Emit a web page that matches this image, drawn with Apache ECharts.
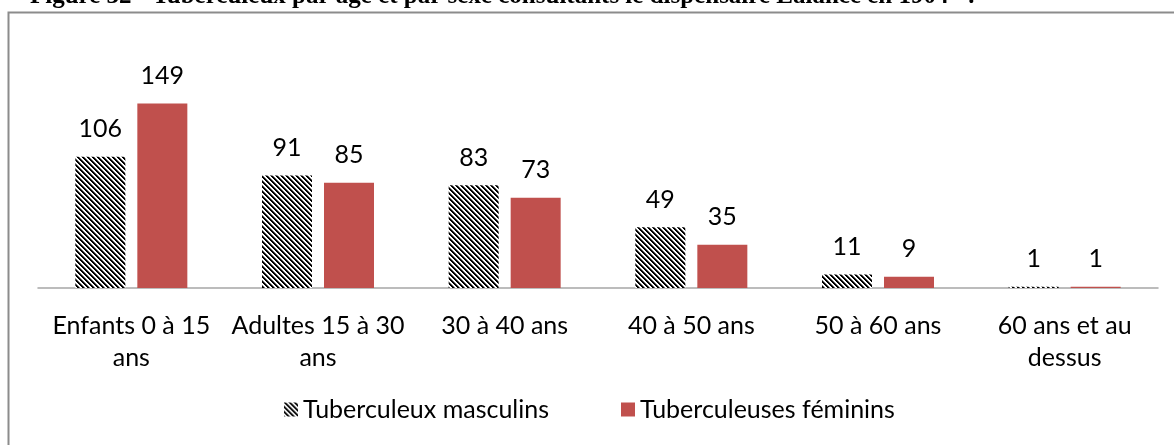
<!DOCTYPE html>
<html>
<head>
<meta charset="utf-8">
<script src="https://cdn.jsdelivr.net/npm/echarts@6/dist/echarts.min.js"></script>
<style>
  html, body { margin: 0; padding: 0; background: #fff; }
  #chart { width: 1174px; height: 445px; }
</style>
</head>
<body>
<div id="chart"></div>
<script>
// données
const categories = [
  'Enfants 0 à 15\nans',
  'Adultes 15 à 30\nans',
  '30 à 40 ans',
  '40 à 50 ans',
  '50 à 60 ans',
  '60 ans et au\ndessus'
];
const masculins = [106, 91, 83, 49, 11, 1];
const feminins = [149, 85, 73, 35, 9, 1];
const seriesNames = ['Tuberculeux masculins', 'Tuberculeuses féminins'];
const titleText = 'Figure 32 - Tuberculeux par âge et par sexe consultants le dispensaire Lalance en 1904';

// motif hachuré noir et blanc (diagonales descendantes)
function makeHatch() {
  const size = 5;
  const c = document.createElement('canvas');
  c.width = size;
  c.height = size;
  const ctx = c.getContext('2d');
  const img = ctx.createImageData(size, size);
  for (let y = 0; y < size; y++) {
    for (let x = 0; x < size; x++) {
      const k = ((x - y) % size + size) % size;
      let v = 255;
      if (k < 2) v = 0;
      else if (k === 2) v = 110;
      const i = (y * size + x) * 4;
      img.data[i] = v; img.data[i + 1] = v; img.data[i + 2] = v; img.data[i + 3] = 255;
    }
  }
  ctx.putImageData(img, 0, 0);
  return c;
}

const font = 'Lato, Carlito, Calibri, sans-serif';
const chart = echarts.init(document.getElementById('chart'));

const labelStyle = {
  show: true,
  position: 'top',
  distance: 15,
  fontSize: 25,
  fontFamily: font,
  color: '#000'
};

chart.setOption({
  animation: false,
  textStyle: { fontFamily: font },
  graphic: [
    {
      type: 'rect',
      shape: { x: 8.5, y: 12.5, width: 1300, height: 600 },
      style: { fill: 'none', stroke: '#8c8c8c', lineWidth: 2 },
      z: -1
    },
    {
      type: 'text',
      x: 30,
      y: -3.5,
      style: {
        text: titleText + '   :',
        font: 'bold 25px "Liberation Serif", "Times New Roman", serif',
        fill: '#000',
        verticalAlign: 'middle'
      }
    }
  ],
  grid: { left: 38, right: 16, top: 90, bottom: 157 },
  legend: {
    bottom: 18,
    left: 279,
    itemWidth: 14,
    itemHeight: 14,
    itemGap: 72,
    icon: 'rect',
    textStyle: { fontSize: 25, fontFamily: font, color: '#000' },
    data: seriesNames
  },
  xAxis: {
    type: 'category',
    data: categories,
    axisLine: { lineStyle: { color: '#a6a6a6', width: 1.5 } },
    axisTick: { show: false },
    axisLabel: {
      fontSize: 25,
      fontFamily: font,
      color: '#000',
      lineHeight: 32,
      margin: 22,
      interval: 0
    }
  },
  yAxis: {
    type: 'value',
    min: 0,
    max: 160,
    show: false,
    splitLine: { show: false }
  },
  series: [
    {
      name: seriesNames[0],
      type: 'bar',
      data: masculins,
      barWidth: 50,
      barGap: '24%',
      itemStyle: { color: { image: makeHatch(), repeat: 'repeat' } },
      label: labelStyle
    },
    {
      name: seriesNames[1],
      type: 'bar',
      data: feminins,
      barWidth: 50,
      itemStyle: { color: '#c0504d' },
      label: labelStyle
    }
  ]
});
</script>
</body>
</html>
